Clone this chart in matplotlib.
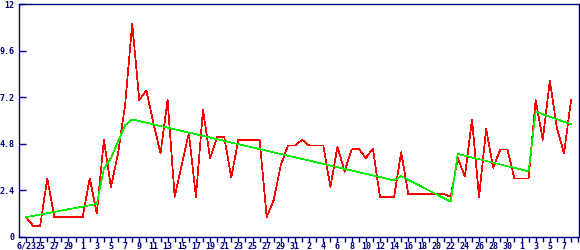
import matplotlib
matplotlib.use("Agg")
import matplotlib.pyplot as plt

# daily values, 6/23 .. 9/8
day_idx = list(range(78))
daily = [1.0, 0.55, 0.55, 3.0, 1.0, 1.0, 1.0, 1.0, 1.0, 3.0,
         1.2, 5.0, 2.55, 4.3, 6.8, 11.0, 7.05, 7.55, 5.85, 4.3,
         7.05, 2.05, 3.7, 5.35, 2.05, 6.55, 4.05, 5.15, 5.15, 3.05,
         5.0, 5.0, 5.0, 5.0, 1.0, 1.9, 3.7, 4.7, 4.7, 5.0,
         4.7, 4.7, 4.7, 2.55, 4.65, 3.35, 4.5, 4.55, 4.05, 4.55,
         2.05, 2.05, 2.05, 4.35, 2.2, 2.2, 2.2, 2.2, 2.2, 2.2,
         2.05, 4.05, 3.1, 6.05, 2.05, 5.55, 3.55, 4.5, 4.5, 3.0,
         3.0, 3.0, 7.05, 5.0, 8.05, 5.6, 4.3, 7.05]

# trend line vertices
trend_idx = [0, 10, 11, 12, 13, 14, 15, 52, 53, 60, 61, 71, 72, 77]
trend = [1.0, 1.68, 3.5, 4.05, 4.9, 5.75, 6.05, 2.9, 3.12, 1.8, 4.27, 3.36, 6.45, 5.8]

xlabels = ["6/23", "25", "27", "29", "1", "3", "5", "7", "9", "11", "13", "15",
           "17", "19", "21", "23", "25", "27", "29", "31", "2", "4", "6", "8",
           "10", "12", "14", "16", "18", "20", "22", "24", "26", "28", "30",
           "1", "3", "5", "7"]
yticks = [0, 2.4, 4.8, 7.2, 9.6, 12]
ylabels = ["0", "2.4", "4.8", "7.2", "9.6", "12"]

navy = "#000080"

fig = plt.figure(figsize=(5.8, 2.5), dpi=100)
ax = fig.add_axes([19.3 / 580, 13.5 / 250, 559.2 / 580, 232.2 / 250])

ax.plot(day_idx, daily, color="#ff0000", lw=0.5, antialiased=False, zorder=2)
ax.plot(trend_idx, trend, color="#00ee00", lw=0.5, antialiased=False, zorder=3)

ax.set_xlim(-0.95, 78.05)
ax.set_ylim(0, 12)

ax.set_xticks(range(0, 77, 2))
ax.set_xticklabels(xlabels)
ax.set_xticks(range(0, 79), minor=True)
ax.tick_params(axis="x", which="both", direction="out", length=3.5, width=1,
               color=navy, pad=0.3)
ax.tick_params(axis="x", labelsize=6, labelcolor=navy)

ax.set_yticks(yticks)
ax.set_yticklabels(ylabels)
ax.tick_params(axis="y", direction="in", length=5, width=1, color=navy,
               pad=3.6, labelsize=6, labelcolor=navy)

for lab in ax.get_xticklabels() + ax.get_yticklabels():
    lab.set_family("DejaVu Sans Mono")
    lab.set_weight("bold")

for s in ax.spines.values():
    s.set_color(navy)
    s.set_linewidth(1)

fig.savefig("out.png", dpi=100)
